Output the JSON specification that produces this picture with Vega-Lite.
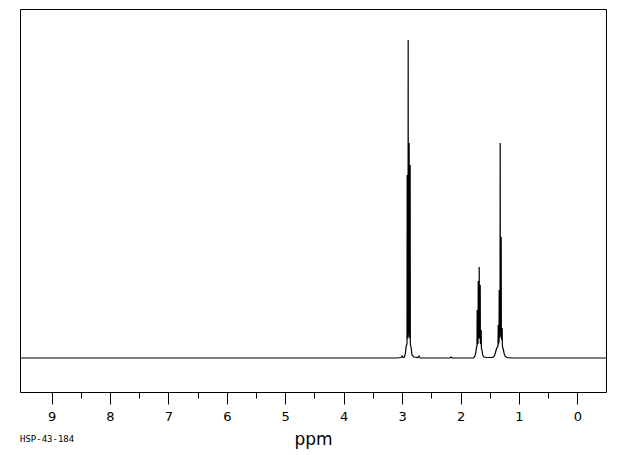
{
  "$schema": "https://vega.github.io/schema/vega-lite/v6.json",
  "width": 586,
  "height": 383,
  "autosize": "none",
  "padding": {"left": 20, "top": 9, "right": 14, "bottom": 63},
  "background": "white",
  "config": {"view": {"stroke": "black", "strokeWidth": 1}},
  "title": {"text": "HSP-43-184", "orient": "bottom", "anchor": "start", "frame": "group", "font": "DejaVu Sans Mono", "fontSize": 9, "fontWeight": "normal", "color": "black", "offset": -12},
  "data": {"values": [
    {"ppm": 9.54, "i": 0},
    {"ppm": 3.1, "i": 0},
    {"ppm": 3.02, "i": 0.5},
    {"ppm": 3.0, "i": 2},
    {"ppm": 2.985, "i": 0.5},
    {"ppm": 2.96, "i": 1},
    {"ppm": 2.945, "i": 4},
    {"ppm": 2.93, "i": 12},
    {"ppm": 2.916, "i": 14},
    {"ppm": 2.913, "i": 183},
    {"ppm": 2.91, "i": 20},
    {"ppm": 2.899, "i": 20},
    {"ppm": 2.896, "i": 318},
    {"ppm": 2.893, "i": 25},
    {"ppm": 2.882, "i": 25},
    {"ppm": 2.879, "i": 215},
    {"ppm": 2.876, "i": 22},
    {"ppm": 2.865, "i": 20},
    {"ppm": 2.862, "i": 193},
    {"ppm": 2.859, "i": 14},
    {"ppm": 2.845, "i": 10},
    {"ppm": 2.83, "i": 3},
    {"ppm": 2.8, "i": 1},
    {"ppm": 2.73, "i": 0.5},
    {"ppm": 2.71, "i": 2},
    {"ppm": 2.69, "i": 0},
    {"ppm": 2.18, "i": 0},
    {"ppm": 2.16, "i": 1},
    {"ppm": 2.14, "i": 0},
    {"ppm": 1.78, "i": 0},
    {"ppm": 1.76, "i": 1},
    {"ppm": 1.74, "i": 5},
    {"ppm": 1.728, "i": 10},
    {"ppm": 1.718, "i": 12},
    {"ppm": 1.715, "i": 48},
    {"ppm": 1.712, "i": 14},
    {"ppm": 1.7, "i": 15},
    {"ppm": 1.697, "i": 77},
    {"ppm": 1.694, "i": 20},
    {"ppm": 1.683, "i": 20},
    {"ppm": 1.68, "i": 91},
    {"ppm": 1.677, "i": 20},
    {"ppm": 1.666, "i": 20},
    {"ppm": 1.663, "i": 73},
    {"ppm": 1.66, "i": 15},
    {"ppm": 1.649, "i": 14},
    {"ppm": 1.646, "i": 28},
    {"ppm": 1.643, "i": 10},
    {"ppm": 1.63, "i": 7},
    {"ppm": 1.62, "i": 3},
    {"ppm": 1.6, "i": 1},
    {"ppm": 1.56, "i": 0.5},
    {"ppm": 1.45, "i": 0.5},
    {"ppm": 1.42, "i": 2},
    {"ppm": 1.4, "i": 6},
    {"ppm": 1.38, "i": 10},
    {"ppm": 1.358, "i": 12},
    {"ppm": 1.355, "i": 33},
    {"ppm": 1.352, "i": 14},
    {"ppm": 1.341, "i": 16},
    {"ppm": 1.338, "i": 68},
    {"ppm": 1.335, "i": 20},
    {"ppm": 1.324, "i": 22},
    {"ppm": 1.321, "i": 215},
    {"ppm": 1.318, "i": 25},
    {"ppm": 1.307, "i": 25},
    {"ppm": 1.304, "i": 121},
    {"ppm": 1.301, "i": 20},
    {"ppm": 1.29, "i": 18},
    {"ppm": 1.287, "i": 30},
    {"ppm": 1.284, "i": 12},
    {"ppm": 1.27, "i": 9},
    {"ppm": 1.255, "i": 5},
    {"ppm": 1.24, "i": 2},
    {"ppm": 1.21, "i": 0.5},
    {"ppm": 1.12, "i": 0},
    {"ppm": -0.49, "i": 0}
  ]},
  "mark": {"type": "line", "color": "black", "strokeWidth": 1.2, "clip": true, "interpolate": "linear"},
  "encoding": {
    "x": {
      "field": "ppm", "type": "quantitative", "sort": null,
      "scale": {"domain": [9.54, -0.49], "nice": false, "zero": false},
      "axis": {
        "title": "ppm", "titleFont": "DejaVu Sans", "titleFontSize": 17, "titleFontWeight": "normal", "titleColor": "black", "titlePadding": 8,
        "values": [9, 8.5, 8, 7.5, 7, 6.5, 6, 5.5, 5, 4.5, 4, 3.5, 3, 2.5, 2, 1.5, 1, 0.5, 0],
        "labelExpr": "datum.value % 1 === 0 ? format(datum.value, 'd') : ''",
        "tickSize": {"condition": {"test": "datum.value % 1 === 0", "value": 12}, "value": 6},
        "tickColor": "black", "tickWidth": 1,
        "domain": false, "grid": false,
        "labelFont": "DejaVu Sans", "labelFontSize": 13, "labelColor": "black", "labelPadding": 6
      }
    },
    "y": {
      "field": "i", "type": "quantitative",
      "scale": {"domain": [-34, 349], "nice": false, "zero": false},
      "axis": null
    },
    "order": {"field": "ppm", "sort": "descending"}
  }
}
